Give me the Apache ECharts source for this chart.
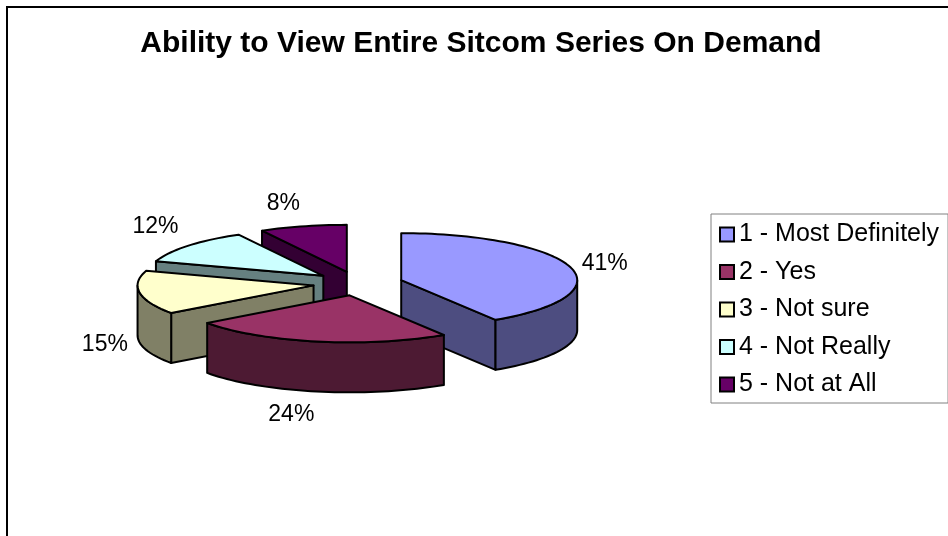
<!DOCTYPE html>
<html>
<head>
<meta charset="utf-8">
<script src="https://cdn.jsdelivr.net/npm/echarts@6.0.0/dist/echarts.min.js"></script>
<style>
  html, body { margin: 0; padding: 0; background: #ffffff; }
  #chart { width: 948px; height: 536px; }
</style>
</head>
<body>
<div id="chart"></div>
<script>
// Survey answers and their share of respondents (%)
const categories = ['1 - Most Definitely', '2 - Yes', '3 - Not sure', '4 - Not Really', '5 - Not at All'];
const shares = [41, 24, 15, 12, 8];
const sliceColors = ['#9999FF', '#993366', '#FFFFCC', '#CCFFFF', '#660066'];
const titleText = 'Ability to View Entire Sitcom Series On Demand';

const FONT = '"Liberation Sans", Arial, Helvetica, sans-serif';
const total = shares.reduce((s, v) => s + v, 0);
const starts = [];
shares.reduce((acc, v) => { starts.push(acc); return acc + v; }, 0);

// Tilted pie layout: ellipse centre, radii, wall thickness, explosion distance
const PIE = { cx: 358, cy: 283.5, rx: 176, ry: 47, depth: 50, explode: 45 };
const STEP = Math.PI / 90;
const EPS = 1e-9;

function shade(hex, f) {
  const n = parseInt(String(hex).slice(1), 16);
  const r = Math.round(((n >> 16) & 255) * f);
  const g = Math.round(((n >> 8) & 255) * f);
  const b = Math.round((n & 255) * f);
  return 'rgb(' + r + ',' + g + ',' + b + ')';
}

// One exploded 3D wedge: side walls, top face and its percentage label
function renderSlice(params, api) {
  const value = api.value(0);
  const start = api.value(1);
  const fill = api.visual('color');
  const side = shade(fill, 0.5);
  const a0 = start / total * Math.PI * 2;
  const a1 = (start + value) / total * Math.PI * 2;
  const mid = (a0 + a1) / 2;
  const k = PIE.ry / PIE.rx;
  const ox = PIE.cx + PIE.explode * Math.sin(mid);
  const oy = PIE.cy - PIE.explode * k * Math.cos(mid);
  const D = PIE.depth;
  const rim = (a, dz) => [ox + PIE.rx * Math.sin(a), oy - PIE.ry * Math.cos(a) + dz];
  const arc = (from, to, dz) => {
    const n = Math.max(1, Math.ceil((to - from) / STEP));
    const pts = [];
    for (let i = 0; i <= n; i++) pts.push(rim(from + (to - from) * i / n, dz));
    return pts;
  };
  const base = Math.round(oy * 10) * 4;
  const children = [];
  const face = (points, color, z2) => children.push({
    type: 'polygon', z2: z2, shape: { points: points },
    style: { fill: color, stroke: '#000', lineWidth: 2, lineJoin: 'round' }
  });

  // radial walls facing the viewer
  if (Math.sin(a0) < -EPS) face([[ox, oy], rim(a0, 0), rim(a0, D), [ox, oy + D]], side, base);
  if (Math.sin(a1) > EPS) face([[ox, oy], rim(a1, 0), rim(a1, D), [ox, oy + D]], side, base);
  // curved outer wall on the front half
  const f0 = Math.max(a0, Math.PI / 2);
  const f1 = Math.min(a1, Math.PI * 1.5);
  if (f1 > f0) face(arc(f0, f1, 0).concat(arc(f0, f1, D).reverse()), side, base + 1);
  // top face
  face([[ox, oy]].concat(arc(a0, a1, 0)), fill, base + 2);

  // label outside the wedge
  const s = Math.sin(mid), c = Math.cos(mid);
  const lx = ox + s * (PIE.rx + 12);
  const ly = oy - c * (PIE.ry + 12) + (c < 0 ? D : 0);
  children.push({
    type: 'text', z2: 100000, x: lx, y: ly,
    style: {
      text: Math.round(value / total * 100) + '%',
      font: '23px ' + FONT, fill: '#000',
      align: s > 0.1 ? 'left' : (s < -0.1 ? 'right' : 'center'),
      verticalAlign: c > 0.5 ? 'bottom' : (c < -0.5 ? 'top' : 'middle')
    }
  });
  return { type: 'group', children: children };
}

const chart = echarts.init(document.getElementById('chart'), null, { renderer: 'canvas' });
chart.setOption({
  animation: false,
  backgroundColor: '#ffffff',
  graphic: [
    { type: 'rect', shape: { x: 7, y: 7, width: 980, height: 560 },
      style: { fill: 'none', stroke: '#000', lineWidth: 2 }, silent: true },
    { type: 'text', x: 481, y: 44,
      style: { text: titleText, font: 'bold 30px ' + FONT, fill: '#000', align: 'center', verticalAlign: 'middle' } }
  ],
  legend: {
    data: categories,
    orient: 'vertical',
    left: 711, top: 214,
    padding: [8, 9, 6, 8],
    itemGap: 12.5,
    itemWidth: 14, itemHeight: 14,
    icon: 'rect',
    itemStyle: { borderColor: '#000', borderWidth: 2 },
    borderColor: '#808080', borderWidth: 1,
    selectedMode: false,
    textStyle: { fontFamily: FONT, fontSize: 25, color: '#000', lineHeight: 25 }
  },
  series: categories.map((name, i) => ({
    type: 'custom',
    name: name,
    coordinateSystem: 'none',
    silent: true,
    itemStyle: { color: sliceColors[i] },
    renderItem: renderSlice,
    data: [[shares[i], starts[i]]]
  }))
});
</script>
</body>
</html>
